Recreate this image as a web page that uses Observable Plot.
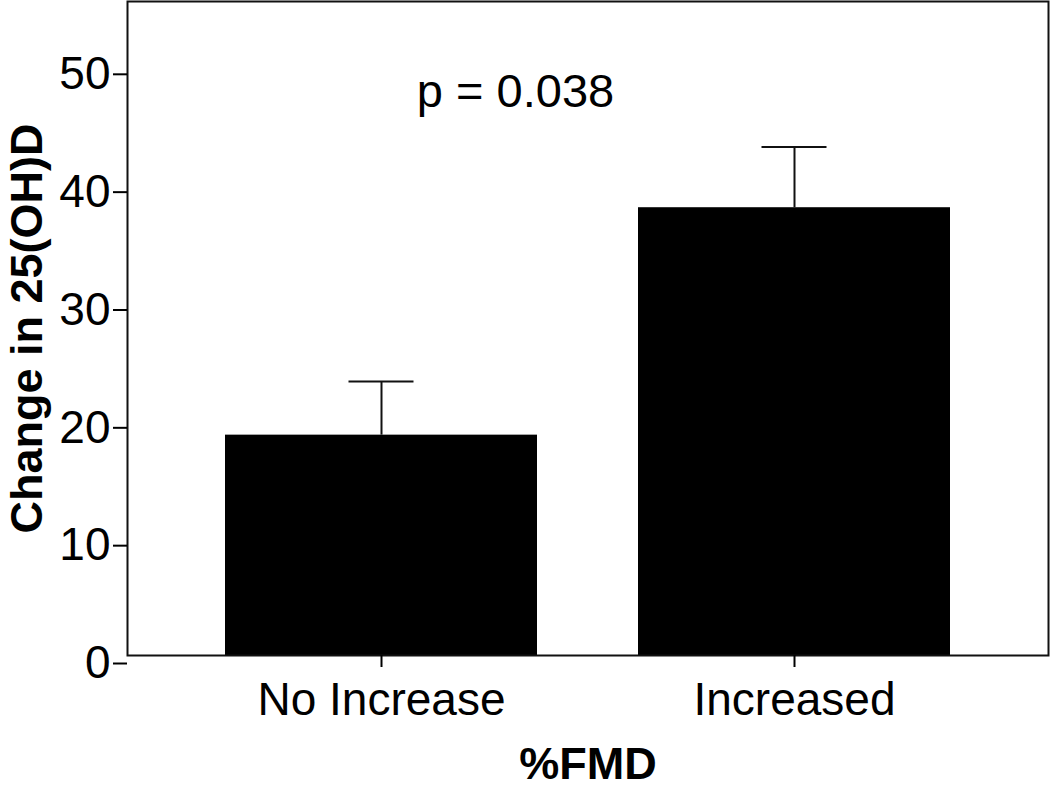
<!DOCTYPE html>
<html><head><meta charset="utf-8">
<script src="https://cdn.jsdelivr.net/npm/d3@7"></script>
<script src="https://cdn.jsdelivr.net/npm/@observablehq/plot@0.6"></script>
<style>body{margin:0;background:#fff;}</style>
</head><body><div id="chart"></div>
<script>
const groups = ["No Increase", "Increased"];
const means = [18.7, 38.0];
const errors = [4.55, 5.15];
const yTicks = [0, 10, 20, 30, 40, 50];
const annotationText = ["p = 0.038"];
const annotationGroup = ["No Increase"];
const annotationY = [47.8];
const yLabel = "Change in 25(OH)D";
const xLabel = "%FMD";

const data = groups.map((g, i) => ({group: g, mean: means[i], err: errors[i]}));
const notes = annotationText.map((t, i) => ({text: t, group: annotationGroup[i], y: annotationY[i]}));

const chart = Plot.plot({
  width: 1050,
  height: 789,
  marginLeft: 127,
  marginRight: 2,
  marginTop: 1,
  marginBottom: 134,
  style: {fontFamily: "'Liberation Sans', Arial, sans-serif", background: "white", color: "black"},
  x: {type: "band", domain: groups, paddingInner: 0.244, paddingOuter: 0.235},
  y: {domain: [0, 55.5]},
  marks: [
    Plot.barY(data, {x: "group", y: "mean", fill: "black"}),
    Plot.ruleX(data, {x: "group", y1: "mean", y2: d => d.mean + d.err, stroke: "#111", strokeWidth: 2}),
    Plot.tickY(data, {x: "group", y: d => d.mean + d.err, insetLeft: 123.5, insetRight: 123.5, stroke: "#111", strokeWidth: 2}),
    Plot.frame({stroke: "#111", strokeWidth: 2}),
    Plot.axisY({ticks: yTicks, tickSize: 14, tickPadding: 3, label: null, fontSize: 46, dy: 8, strokeWidth: 2}),
    Plot.axisX({tickSize: 12, tickPadding: 15, label: null, fontSize: 46, strokeWidth: 2}),
    Plot.text(notes, {x: "group", y: "y", text: "text", dx: 134, fontSize: 47, letterSpacing: "1px"}),
    Plot.text([yLabel], {frameAnchor: "left", textAnchor: "middle", rotate: -90, dx: -100, fontWeight: "bold", fontSize: 45}),
    Plot.text([xLabel], {frameAnchor: "bottom", dy: 123, fontWeight: "bold", fontSize: 45})
  ]
});
document.getElementById("chart").appendChild(chart);
</script>
</body></html>
